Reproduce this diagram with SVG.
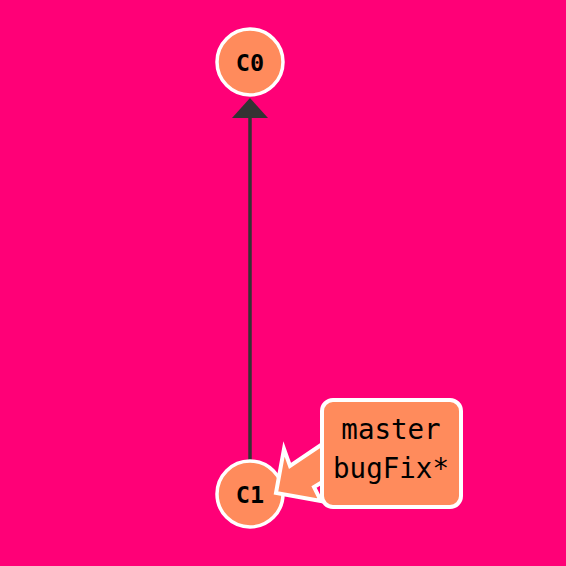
<svg xmlns="http://www.w3.org/2000/svg" width="566" height="566" viewBox="0 0 566 566">
<style>
.node circle{fill:#FF8B5C;stroke:#fff;stroke-width:3.5}
.node text{font-family:"DejaVu Sans Mono","Liberation Mono",monospace;font-weight:bold;font-size:23.5px;fill:#000;text-anchor:middle}
.label text{font-family:"DejaVu Sans Mono","Liberation Mono",monospace;font-size:27.5px;fill:#000;text-anchor:middle}
.label .box{fill:#FF8B5C;stroke:#fff;stroke-width:4}
</style>
<rect width="566" height="566" fill="#FF0077"/>
<g id="connectors">
<line x1="250" y1="460" x2="250" y2="116" stroke="#333" stroke-width="3.5"/>
<polygon points="250,98 268,118 232,118" fill="#333"/>
</g>
<g id="C0" class="node">
<circle cx="250" cy="62" r="33"/>
<text x="250" y="70.5">C0</text>
</g>
<g id="C1" class="node">
<circle cx="250" cy="494" r="33"/>
<text x="250" y="502.5">C1</text>
</g>
<g id="label" class="label">
<polygon class="box" points="324,443 290,466 284,449 276,493 321,501 314,487 324,481"/>
<rect class="box" x="322" y="400" width="139" height="107" rx="11"/>
<text x="391" y="439">master</text>
<text x="391" y="478">bugFix*</text>
</g>
</svg>
